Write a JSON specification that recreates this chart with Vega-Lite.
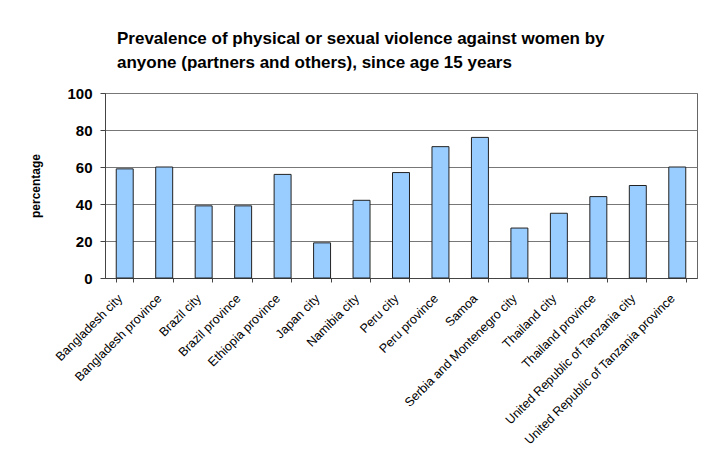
{
  "$schema": "https://vega.github.io/schema/vega-lite/v6.json",
  "width": 592,
  "height": 185,
  "autosize": {"type": "none"},
  "padding": {"left": 105, "top": 93, "right": 17, "bottom": 188},
  "background": "white",
  "title": {
    "text": ["Prevalence of physical or sexual violence against women by", "anyone (partners and others), since age 15 years"],
    "anchor": "start",
    "frame": "group",
    "dx": 12,
    "offset": 14,
    "font": "Liberation Sans",
    "fontSize": 17,
    "fontWeight": "bold",
    "lineHeight": 24,
    "color": "black"
  },
  "config": {
    "view": {"stroke": "#666666", "strokeWidth": 1},
    "font": "Liberation Sans"
  },
  "data": {
    "values": [
      {"area": "Bangladesh city", "pct": 59},
      {"area": "Bangladesh province", "pct": 60},
      {"area": "Brazil city", "pct": 39},
      {"area": "Brazil province", "pct": 39},
      {"area": "Ethiopia province", "pct": 56},
      {"area": "Japan city", "pct": 19},
      {"area": "Namibia city", "pct": 42},
      {"area": "Peru city", "pct": 57},
      {"area": "Peru province", "pct": 71},
      {"area": "Samoa", "pct": 76},
      {"area": "Serbia and Montenegro city", "pct": 27},
      {"area": "Thailand city", "pct": 35},
      {"area": "Thailand province", "pct": 44},
      {"area": "United Republic of Tanzania city", "pct": 50},
      {"area": "United Republic of Tanzania province", "pct": 60}
    ]
  },
  "mark": {"type": "bar", "fill": "#99ccff", "stroke": "#222222", "strokeWidth": 1},
  "encoding": {
    "x": {
      "field": "area",
      "type": "nominal",
      "sort": null,
      "scale": {"paddingInner": 0.57, "paddingOuter": 0.285},
      "axis": {
        "title": null,
        "labelAngle": -45,
        "labelAlign": "right",
        "labelBaseline": "middle",
        "labelFontSize": 12.5,
        "labelColor": "black",
        "labelPadding": 14,
        "labelOffset": -5,
        "labelLimit": 300,
        "tickBand": "extent",
        "tickColor": "#444444",
        "tickSize": 4,
        "domainColor": "#444444"
      }
    },
    "y": {
      "field": "pct",
      "type": "quantitative",
      "scale": {"domain": [0, 100]},
      "axis": {
        "title": "percentage",
        "titleFontSize": 12,
        "titleFontWeight": "bold",
        "titleColor": "black",
        "titlePadding": 24,
        "values": [0, 20, 40, 60, 80, 100],
        "labelFontSize": 15,
        "labelFontWeight": "bold",
        "labelColor": "black",
        "labelPadding": 8,
        "tickSize": 5,
        "tickColor": "#444444",
        "domainColor": "#444444",
        "gridColor": "#777777",
        "gridOpacity": 1
      }
    }
  }
}
